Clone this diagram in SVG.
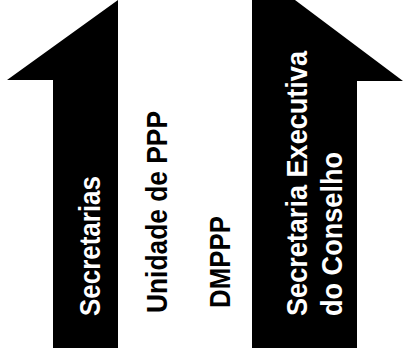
<svg xmlns="http://www.w3.org/2000/svg" width="403" height="356" viewBox="0 0 403 356">
<style>
.arrow{fill:#000;stroke:none}
.t{font-family:"Liberation Sans",Arial,sans-serif;font-weight:bold;font-size:29px}
.w{fill:#fff}
.b{fill:#000}
</style>
<rect width="403" height="356" fill="#fff"/>
<g id="connectors">
<polygon id="arrow-left" class="arrow" points="118,0 118,348 53,348 53,80 7,80"/>
<polygon id="arrow-right" class="arrow" points="252,0 295,0 403,81 357,81 357,348 252,348"/>
</g>
<g id="node-secretarias">
<text class="t w" transform="translate(100,316) rotate(-90)" textLength="140" lengthAdjust="spacingAndGlyphs">Secretarias</text>
</g>
<g id="node-unidade">
<text class="t b" transform="translate(167,313) rotate(-90)" textLength="202" lengthAdjust="spacingAndGlyphs" style="font-size:30px">Unidade de PPP</text>
</g>
<g id="node-dmppp">
<text class="t b" transform="translate(230,308) rotate(-90)" textLength="92" lengthAdjust="spacingAndGlyphs" style="font-size:30px">DMPPP</text>
</g>
<g id="node-secretaria-executiva">
<text class="t w" transform="translate(307,316) rotate(-90)" textLength="265" lengthAdjust="spacingAndGlyphs">Secretaria Executiva</text>
<text class="t w" transform="translate(342,316) rotate(-90)" textLength="164" lengthAdjust="spacingAndGlyphs">do Conselho</text>
</g>
</svg>
